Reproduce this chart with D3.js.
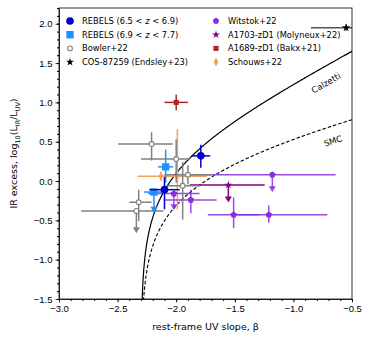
<!DOCTYPE html>
<html>
<head>
<meta charset="utf-8">
<script src="https://cdn.jsdelivr.net/npm/d3@7"></script>
<style>
  body { margin: 0; background: #fff; }
  svg { font-family: "DejaVu Sans", sans-serif; }
</style>
</head>
<body>
<div id="chart"></div>
<script>
// DATA: beta, IRX, x errors (lo/hi), y errors (lo/hi), ul = upper limit
const rebelsLow = [
    { beta: -1.79, irx: 0.32, xl: 0.08, xh: 0.08, yl: 0.15, yh: 0.14 },
    { beta: -2.10, irx: -0.11, xl: 0.13, xh: 0.13, yl: 0.25, yh: 0.16 }
];
const rebelsHigh = [
    { beta: -2.09, irx: 0.18, xl: 0.065, xh: 0.065, yl: 0.20, yh: 0.22 },
    { beta: -2.19, irx: -0.14, xl: 0.085, xh: 0.085, yl: 0.25, yh: 0, ul: true }
];
const bowler = [
    { beta: -2.21, irx: 0.47, xl: 0.285, xh: 0.18, yl: 0.21, yh: 0.15 },
    { beta: -2.00, irx: 0.28, xl: 0.30, xh: 0.12, yl: 0.30, yh: 0.25 },
    { beta: -1.90, irx: 0.08, xl: 0.20, xh: 0.20, yl: 0.12, yh: 0.12 },
    { beta: -1.945, irx: -0.06, xl: 0.13, xh: 0.15, yl: 0.43, yh: 0.30 },
    { beta: -2.32, irx: -0.27, xl: 0.08, xh: 0.11, yl: 0.24, yh: 0.16 },
    { beta: -2.34, irx: -0.38, xl: 0.47, xh: 0.23, yl: 0.27, yh: 0, ul: true }
];
const endsley = [
    { beta: -0.55, irx: 1.95, xl: 0.30, xh: 0.30, yl: 0.04, yh: 0.04 }
];
const witstok = [
    { beta: -1.18, irx: 0.08, xl: 0.70, xh: 0.54, yl: 0.21, yh: 0, ul: true },
    { beta: -2.02, irx: -0.16, xl: 0.22, xh: 0.22, yl: 0.20, yh: 0, ul: true },
    { beta: -1.875, irx: -0.24, xl: 0.22, xh: 0.22, yl: 0.17, yh: 0.13 },
    { beta: -1.51, irx: -0.43, xl: 0.22, xh: 0.22, yl: 0.17, yh: 0.22 },
    { beta: -1.21, irx: -0.43, xl: 0.30, xh: 0.50, yl: 0.10, yh: 0.12 }
];
const molyneux = [
    { beta: -1.555, irx: -0.05, xl: 0.33, xh: 0.31, yl: 0.21, yh: 0, ul: true }
];
const bakx = [
    { beta: -2.00, irx: 1.00, xl: 0.10, xh: 0.10, yl: 0.10, yh: 0.10 }
];
const schouws = [
    { beta: -2.13, irx: 0.06, xl: 0.20, xh: 0.20, yl: 0.06, yh: 0.06 },
    { beta: -1.99, irx: 0.06, xl: 0.15, xh: 0.25, yl: 0.42, yh: 0.60 }
];

const xTicks = [-3.0, -2.5, -2.0, -1.5, -1.0, -0.5];
const yTicks = [-1.5, -1.0, -0.5, 0.0, 0.5, 1.0, 1.5, 2.0];

// IRX-beta model relations (beta0 = -2.3)
const beta0 = -2.3;
const bcFactor = 1.71;
const calzettiSlope = 1.99;
const smcSlope = 0.91;

// 1: SIZES
const W = 374, H = 343;
const margin = { top: 8, right: 22, bottom: 44, left: 59 };
const width = W - margin.left - margin.right;
const height = H - margin.top - margin.bottom;

const svg = d3.select("#chart").append("svg")
    .attr("width", W)
    .attr("height", H);

const g = svg.append("g")
    .attr("transform", `translate(${margin.left},${margin.top})`);

// 2: SCALES
const x = d3.scaleLinear().domain([-3, -0.5]).range([0, width]);
const y = d3.scaleLinear().domain([-1.5, 2.2]).range([height, 0]);

g.append("clipPath").attr("id", "clip")
    .append("rect").attr("width", width).attr("height", height);

const plot = g.append("g").attr("clip-path", "url(#clip)");

// 3: MODEL CURVES
const irxModel = (b, k) => Math.log10(bcFactor * (Math.pow(10, 0.4 * k * (b - beta0)) - 1));
const betas = d3.range(1, 400).map(i => beta0 + Math.pow(i / 399, 2.5) * 1.9);

const line = d3.line()
    .x(d => x(d[0]))
    .y(d => y(d[1]));

plot.append("path")
    .attr("d", line(betas.map(b => [b, irxModel(b, calzettiSlope)]).filter(d => isFinite(d[1]) && d[1] > -3)))
    .attr("fill", "none").attr("stroke", "#000").attr("stroke-width", 1.2);

plot.append("path")
    .attr("d", line(betas.map(b => [b, irxModel(b, smcSlope)]).filter(d => isFinite(d[1]) && d[1] > -3)))
    .attr("fill", "none").attr("stroke", "#000").attr("stroke-width", 1.1)
    .attr("stroke-dasharray", "3.5,2");

g.append("text")
    .attr("transform", "translate(267,75) rotate(-30)")
    .attr("text-anchor", "middle")
    .attr("dy", "0.35em")
    .style("font-size", "8.5px")
    .text("Calzetti");

g.append("text")
    .attr("transform", "translate(274,133) rotate(-19)")
    .attr("text-anchor", "middle")
    .attr("dy", "0.35em")
    .style("font-size", "8.5px")
    .text("SMC");

// 4: MARKERS
function pentagon(r) {
    const pts = d3.range(5).map(i => {
        const a = -Math.PI / 2 + i * 2 * Math.PI / 5;
        return [r * Math.cos(a), r * Math.sin(a)];
    });
    return "M" + pts.join("L") + "Z";
}
function thinDiamond(w, h) {
    return `M0,${-h}L${w},0L0,${h}L${-w},0Z`;
}
const markers = {
    circle: s => d3.symbol(d3.symbolCircle, s)(),
    square: s => d3.symbol(d3.symbolSquare, s)(),
    star: s => d3.symbol(d3.symbolStar, s)(),
    pentagon: s => pentagon(Math.sqrt(s) / 1.6),
    diamond: s => thinDiamond(Math.sqrt(s) / 2.6, Math.sqrt(s) / 1.4)
};

function drawSeries(data, opt) {
    const grp = plot.append("g");
    const lw = opt.lw || 1.5;
    data.forEach(d => {
        const cx = x(d.beta), cy = y(d.irx);
        grp.append("line")
            .attr("x1", x(d.beta - d.xl)).attr("x2", x(d.beta + d.xh))
            .attr("y1", cy).attr("y2", cy)
            .attr("stroke", opt.ecolor).attr("stroke-width", lw)
            .attr("stroke-opacity", opt.eop || 1);
        if (d.ul) {
            const yEnd = y(d.irx - d.yl);
            grp.append("line")
                .attr("x1", cx).attr("x2", cx)
                .attr("y1", cy).attr("y2", yEnd - 3)
                .attr("stroke", opt.ecolor).attr("stroke-width", lw)
                .attr("stroke-opacity", opt.eop || 1);
            grp.append("path")
                .attr("d", `M${cx - 3.5},${yEnd - 5}L${cx + 3.5},${yEnd - 5}L${cx},${yEnd + 1}Z`)
                .attr("fill", opt.ecolor)
                .attr("fill-opacity", opt.eop || 1);
        } else {
            grp.append("line")
                .attr("x1", cx).attr("x2", cx)
                .attr("y1", y(d.irx - d.yl)).attr("y2", y(d.irx + d.yh))
                .attr("stroke", opt.ecolor).attr("stroke-width", lw)
                .attr("stroke-opacity", opt.eop || 1);
        }
    });
    grp.selectAll(".m")
        .data(data)
        .enter()
        .append("path")
        .attr("transform", d => `translate(${x(d.beta)},${y(d.irx)})`)
        .attr("d", markers[opt.marker](opt.size))
        .attr("fill", opt.fill)
        .attr("stroke", opt.stroke || "none")
        .attr("stroke-width", opt.sw || 1);
}

const styles = {
    schouws: { marker: "diamond", size: 40, fill: "#f4a460", ecolor: "#f4a460" },
    bakx: { marker: "square", size: 26, fill: "#b22222", ecolor: "#b22222" },
    witstok: { marker: "pentagon", size: 30, fill: "#8a2be2", ecolor: "#8a2be2", eop: 0.85 },
    molyneux: { marker: "star", size: 20, fill: "#800080", ecolor: "#800080" },
    bowler: { marker: "circle", size: 18, fill: "#fff", stroke: "#808080", sw: 1.1, ecolor: "#808080" },
    rebelsHigh: { marker: "square", size: 54, fill: "#1e90ff", ecolor: "#1e90ff" },
    rebelsLow: { marker: "circle", size: 46, fill: "#0000cd", ecolor: "#0000cd" },
    endsley: { marker: "star", size: 22, fill: "#000", ecolor: "#555" }
};

drawSeries(schouws, styles.schouws);
drawSeries(bakx, styles.bakx);
drawSeries(witstok, styles.witstok);
drawSeries(molyneux, styles.molyneux);
drawSeries(bowler, styles.bowler);
drawSeries(rebelsHigh, styles.rebelsHigh);
drawSeries(rebelsLow, styles.rebelsLow);
drawSeries(endsley, styles.endsley);

// 5: AXES
const fmt = v => d3.format(".1f")(v).replace("-", "\u2212");

const xAxis = g.append("g")
    .attr("transform", `translate(0,${height})`)
    .call(d3.axisBottom(x).tickValues(xTicks).tickFormat(fmt).tickSize(3.5).tickSizeOuter(0));
g.append("g")
    .attr("transform", `translate(0,${height})`)
    .call(d3.axisBottom(x).tickValues(d3.range(-30, -4).map(v => v / 10)).tickFormat("").tickSize(2).tickSizeOuter(0))
    .select(".domain").remove();

const yAxis = g.append("g")
    .call(d3.axisLeft(y).tickValues(yTicks).tickFormat(fmt).tickSize(3.5).tickSizeOuter(0));
g.append("g")
    .call(d3.axisLeft(y).tickValues(d3.range(-15, 23).map(v => v / 10)).tickFormat("").tickSize(2).tickSizeOuter(0))
    .select(".domain").remove();

[xAxis, yAxis].forEach(a => {
    a.selectAll("text").style("font-size", "9.5px").attr("fill", "#000");
    a.selectAll("line").attr("stroke", "#000").attr("stroke-width", 0.8);
    a.select(".domain").attr("stroke", "#000").attr("stroke-width", 0.8);
});

g.append("rect")
    .attr("width", width).attr("height", height)
    .attr("fill", "none").attr("stroke", "#000").attr("stroke-width", 0.8);

// 6: LABELS
g.append("text")
    .attr("x", width / 2)
    .attr("y", height + 31)
    .attr("text-anchor", "middle")
    .style("font-size", "9.5px")
    .text("rest-frame UV slope, \u03b2");

const yl = g.append("text")
    .attr("transform", `translate(-42,${height / 2}) rotate(-90)`)
    .attr("text-anchor", "middle")
    .style("font-size", "9.5px");
yl.append("tspan").text("IR excess, log");
yl.append("tspan").attr("dy", 2.5).style("font-size", "6.5px").text("10");
yl.append("tspan").attr("dy", -2.5).text("(L");
yl.append("tspan").attr("dy", 2.5).style("font-size", "6.5px").text("IR");
yl.append("tspan").attr("dy", -2.5).text("/L");
yl.append("tspan").attr("dy", 2.5).style("font-size", "6.5px").text("UV");
yl.append("tspan").attr("dy", -2.5).text(")");

// 7: LEGEND
const legendItems = [
    { key: "rebelsLow", col: 0, row: 0, label: ["REBELS (6.5 < ", "z", " < 6.9)"], size: 46 },
    { key: "rebelsHigh", col: 0, row: 1, label: ["REBELS (6.9 < ", "z", " < 7.7)"], size: 54 },
    { key: "bowler", col: 0, row: 2, label: ["Bowler+22"], size: 18 },
    { key: "endsley", col: 0, row: 3, label: ["COS-87259 (Endsley+23)"], size: 20 },
    { key: "witstok", col: 1, row: 0, label: ["Witstok+22"], size: 30 },
    { key: "molyneux", col: 1, row: 1, label: ["A1703-zD1 (Molyneux+22)"], size: 20 },
    { key: "bakx", col: 1, row: 2, label: ["A1689-zD1 (Bakx+21)"], size: 26 },
    { key: "schouws", col: 1, row: 3, label: ["Schouws+22"], size: 40 }
];

const legend = g.selectAll(".legend")
    .data(legendItems)
    .enter()
    .append("g")
    .attr("class", "legend")
    .attr("transform", d => `translate(${d.col === 0 ? 11 : 157},${13 + d.row * 13.7})`);

legend.append("path")
    .attr("d", d => markers[styles[d.key].marker](d.size))
    .attr("fill", d => styles[d.key].fill)
    .attr("stroke", d => styles[d.key].stroke || "none")
    .attr("stroke-width", d => styles[d.key].sw || 1);

legend.append("text")
    .attr("x", 12)
    .attr("y", 3)
    .style("font-size", "8.3px")
    .each(function (d) {
        const t = d3.select(this);
        d.label.forEach((s, i) => {
            t.append("tspan").style("font-style", i === 1 ? "italic" : "normal").text(s);
        });
    });
</script>
</body>
</html>
